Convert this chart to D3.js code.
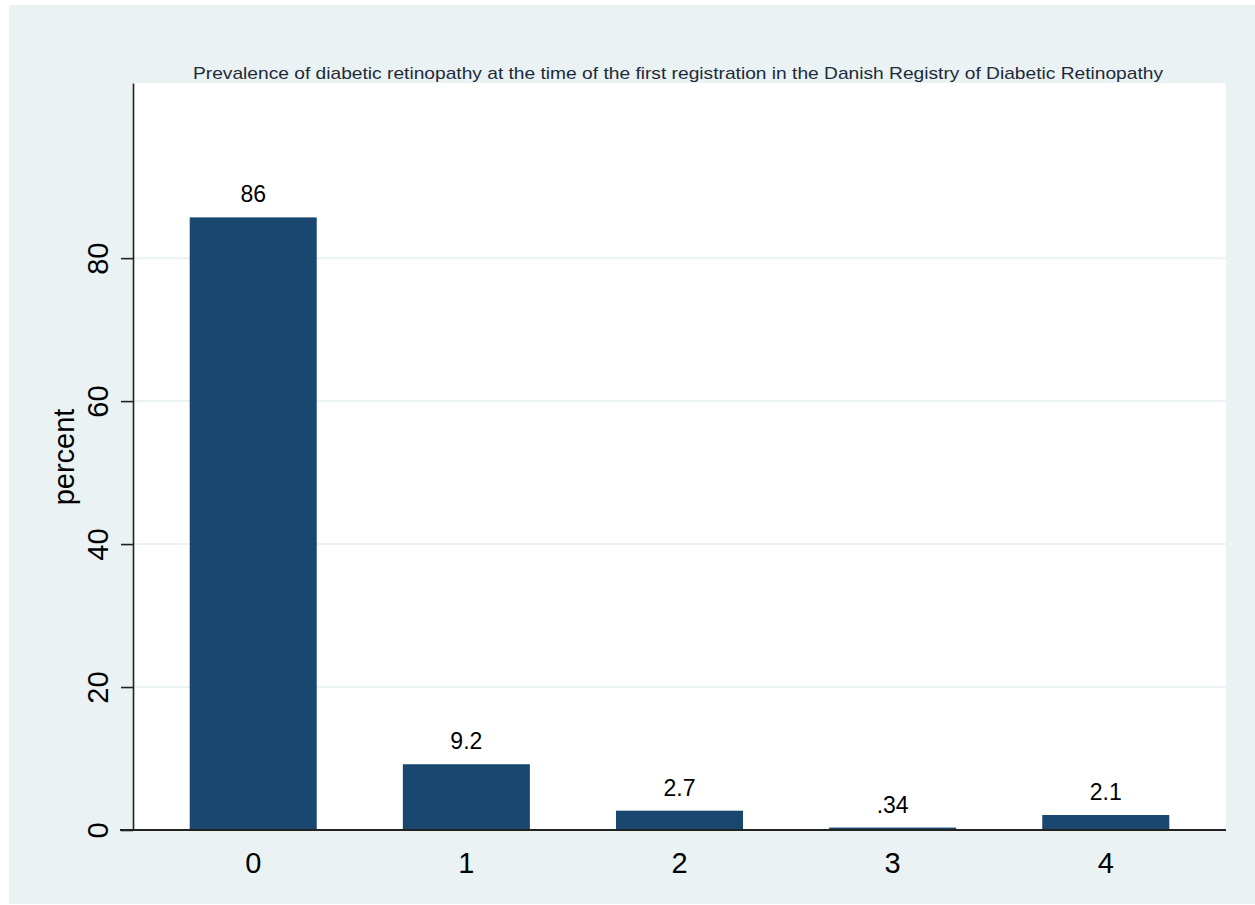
<!DOCTYPE html>
<html>
<head>
<meta charset="utf-8">
<script src="https://cdn.jsdelivr.net/npm/d3@7"></script>
<style>
	body { margin: 0; background: #fff; }
	svg { display: block; font-family: "Liberation Sans", Arial, sans-serif; }
</style>
</head>
<body>
<svg id="chart" width="1255" height="905"></svg>
<script>
const categories = ["0", "1", "2", "3", "4"];
const percents = [85.7, 9.2, 2.7, 0.34, 2.1];
const yTicks = [0, 20, 40, 60, 80];
const title = "Prevalence of diabetic retinopathy at the time of the first registration in the Danish Registry of Diabetic Retinopathy";
const yLabel = "percent";

const plot = { left: 133, right: 1226, top: 83, bottom: 830 };

const svg = d3.select("#chart");

// graph region
svg.append("rect")
	.attr("x", 9).attr("y", 5)
	.attr("width", 1255 - 9).attr("height", 904 - 5)
	.attr("fill", "#eaf2f3");

// plot region
svg.append("rect")
	.attr("x", plot.left).attr("y", plot.top)
	.attr("width", plot.right - plot.left).attr("height", plot.bottom - plot.top)
	.attr("fill", "#fff");

const xScale = d3.scaleBand()
	.domain(categories)
	.range([plot.left, plot.right])
	.paddingInner(0.404)
	.paddingOuter(0.266);

const yScale = d3.scaleLinear()
	.domain([0, 104.5])
	.range([plot.bottom, plot.top]);

// gridlines
svg.append("g")
	.selectAll("line")
	.data(yTicks.filter(d => d > 0))
	.join("line")
	.attr("x1", plot.left).attr("x2", plot.right)
	.attr("y1", d => yScale(d)).attr("y2", d => yScale(d))
	.attr("stroke", "#eaf2f3")
	.attr("stroke-width", 2);

// bars
svg.append("g")
	.selectAll("rect")
	.data(percents)
	.join("rect")
	.attr("x", (d, i) => xScale(categories[i]))
	.attr("y", d => yScale(d))
	.attr("width", xScale.bandwidth())
	.attr("height", d => plot.bottom - yScale(d))
	.attr("fill", "#1a476f");

// value labels
const fmt = d => d3.format(".2r")(d).replace(/^0\./, ".");
svg.append("g")
	.selectAll("text")
	.data(percents)
	.join("text")
	.attr("x", (d, i) => xScale(categories[i]) + xScale.bandwidth() / 2)
	.attr("y", d => yScale(d) - 15)
	.attr("text-anchor", "middle")
	.attr("font-size", 23)
	.attr("fill", "#000")
	.text(fmt);

// y axis
const yAxis = d3.axisLeft(yScale)
	.tickValues(yTicks)
	.tickSizeInner(12)
	.tickSizeOuter(0)
	.tickPadding(12);

const yG = svg.append("g")
	.attr("transform", `translate(${plot.left},0)`)
	.call(yAxis);
yG.select(".domain").attr("stroke", "#222").attr("stroke-width", 1.6);
yG.selectAll(".tick line").attr("stroke", "#222").attr("stroke-width", 1.6);
yG.selectAll(".tick text")
	.attr("font-size", 29)
	.attr("font-family", "Liberation Sans, Arial, sans-serif")
	.attr("fill", "#000")
	.attr("transform", "rotate(-90)")
	.attr("x", 0)
	.attr("y", -25)
	.attr("dy", 0)
	.attr("text-anchor", "middle");

// x axis
const xAxis = d3.axisBottom(xScale)
	.tickSize(0)
	.tickPadding(20);

const xG = svg.append("g")
	.attr("transform", `translate(0,${plot.bottom})`)
	.call(xAxis);
xG.select(".domain").remove();
xG.selectAll(".tick text")
	.attr("font-size", 29)
	.attr("font-family", "Liberation Sans, Arial, sans-serif")
	.attr("fill", "#000")
	.attr("dy", 0)
	.attr("y", 43);

svg.append("line")
	.attr("x1", plot.left - 13).attr("x2", plot.right)
	.attr("y1", plot.bottom).attr("y2", plot.bottom)
	.attr("stroke", "#222")
	.attr("stroke-width", 2);

// y axis title
svg.append("text")
	.attr("transform", `translate(74,457) rotate(-90)`)
	.attr("text-anchor", "middle")
	.attr("font-size", 29)
	.attr("fill", "#000")
	.text(yLabel);

// title
svg.append("text")
	.attr("x", 678)
	.attr("y", 79)
	.attr("text-anchor", "middle")
	.attr("font-size", 17)
	.attr("fill", "#1e2a3a")
	.attr("textLength", 970)
	.attr("lengthAdjust", "spacingAndGlyphs")
	.text(title);
</script>
</body>
</html>
